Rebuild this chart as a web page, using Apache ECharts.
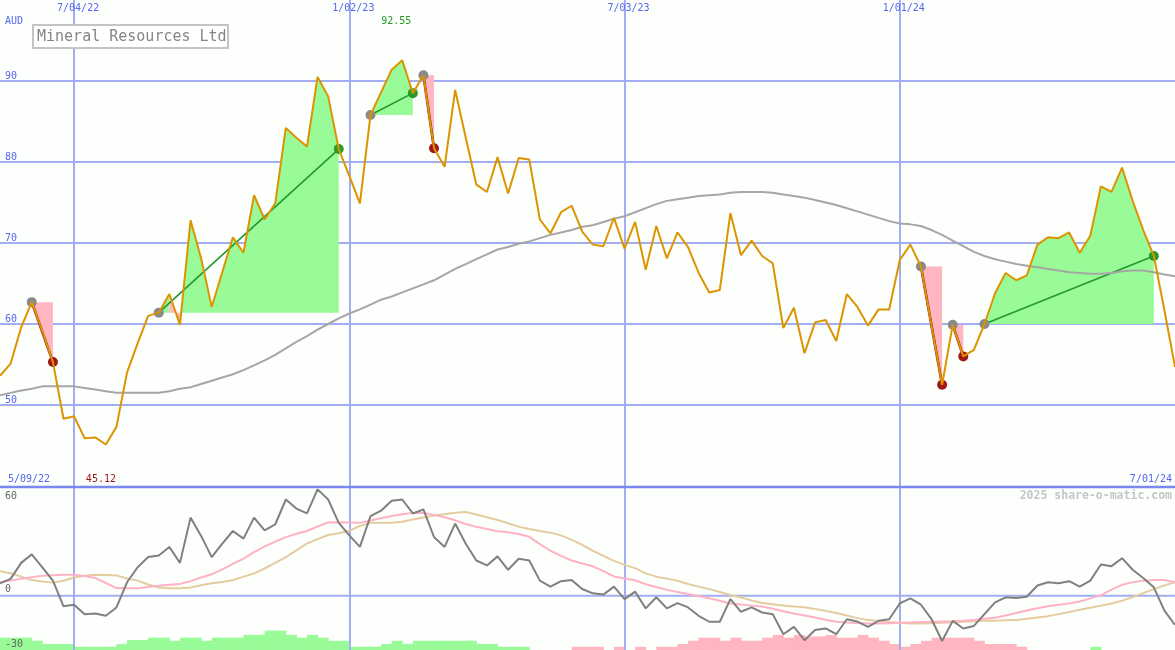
<!DOCTYPE html>
<html><head><meta charset="utf-8">
<script src="https://cdn.jsdelivr.net/npm/echarts@6/dist/echarts.min.js"></script>
<style>html,body{margin:0;padding:0;background:#fdfffd;}#c{width:1175px;height:650px;}</style>
</head><body><div id="c"></div>
<script>
// ---- data (weekly) ----
const price = [53.6,55.1,59.6,62.7,59.1,55.3,48.3,48.6,45.9,46.0,
 45.12,47.3,54.0,57.6,61.0,61.4,63.7,59.9,72.8,68.1,
 62.1,66.4,70.7,68.8,75.9,72.9,74.9,84.2,83.0,81.9,
 90.5,88.1,81.6,78.3,74.9,85.8,88.6,91.4,92.55,88.5,
 90.7,81.7,79.4,88.9,83.0,77.2,76.3,80.6,76.1,80.5,
 80.3,72.9,71.2,73.8,74.6,71.4,69.8,69.6,73.1,69.3,
 72.6,66.7,72.1,68.1,71.3,69.5,66.3,63.9,64.2,73.7,
 68.5,70.3,68.4,67.5,59.5,62.0,56.4,60.2,60.5,57.9,
 63.7,62.1,59.8,61.8,61.8,67.9,69.8,67.1,59.8,52.5,
 59.9,56.0,56.8,60.0,63.8,66.3,65.4,66.0,69.8,70.7,
 70.6,71.3,68.8,70.9,77.0,76.3,79.3,75.2,71.6,68.4,
 61.7,54.7];
const movingAvg = [51.2,51.5,51.8,52.0,52.3,52.3,52.3,52.3,52.1,51.9,
 51.7,51.5,51.5,51.5,51.5,51.5,51.7,52.0,52.2,52.6,
 53.0,53.4,53.8,54.3,54.9,55.5,56.2,57.0,57.8,58.5,
 59.3,60.0,60.7,61.3,61.8,62.4,63.0,63.4,63.9,64.4,
 64.9,65.4,66.1,66.8,67.4,68.0,68.6,69.2,69.5,69.9,
 70.2,70.6,71.0,71.3,71.6,72.0,72.2,72.6,73.0,73.3,
 73.8,74.3,74.8,75.2,75.4,75.6,75.8,75.9,76.0,76.2,
 76.3,76.3,76.3,76.2,76.0,75.8,75.6,75.3,75.0,74.7,
 74.3,73.9,73.5,73.1,72.7,72.4,72.3,72.1,71.6,71.0,
 70.3,69.6,68.9,68.4,68.0,67.7,67.4,67.2,67.0,66.8,
 66.6,66.4,66.3,66.2,66.2,66.3,66.5,66.6,66.6,66.4,
 66.1,65.9];
const osc = [6.8,9.3,18.1,22.8,15.6,8.3,-5.9,-5.0,-10.2,-9.8,
 -11.1,-6.5,7.4,15.7,21.3,22.2,26.9,18.1,43.1,33.0,
 21.3,28.7,35.7,31.5,43.1,36.1,39.3,53.1,48.1,45.4,
 58.7,53.1,40.2,33.3,26.9,43.9,46.9,52.4,53.1,45.4,
 47.6,32.4,26.9,39.8,28.7,19.4,16.7,21.7,14.3,20.4,
 19.4,8.3,5.0,8.0,8.7,3.7,1.3,0.6,5.0,-1.9,
 2.2,-7.0,-0.9,-7.0,-4.1,-6.5,-11.1,-14.4,-14.4,-1.9,
 -8.9,-6.5,-9.3,-10.2,-21.3,-17.2,-24.6,-19.0,-18.1,-21.3,
 -13.0,-14.3,-17.2,-13.9,-13.0,-4.3,-1.5,-5.0,-13.0,-25.0,
 -13.9,-18.1,-16.7,-10.2,-3.7,-0.9,-1.3,-0.6,5.6,7.4,
 6.9,8.0,5.0,8.3,17.2,16.3,20.7,14.3,9.8,4.6,
 -8.3,-16.1];
const oscFast = [7.4,8.3,9.3,10.2,11.0,11.3,11.5,11.5,10.8,9.8,
 7.0,4.2,4.1,4.1,4.8,5.5,6.0,6.5,8.0,10.0,
 11.8,14.5,17.5,20.5,24.0,27.2,29.8,32.3,34.2,35.7,
 38.2,40.4,40.6,40.4,40.2,41.5,42.7,44.0,45.0,45.6,
 45.7,44.6,43.3,41.6,39.6,38.0,36.8,35.6,35.0,34.0,
 32.5,28.5,24.8,22.0,19.4,17.8,16.2,13.5,10.6,9.5,
 8.5,6.3,4.8,3.2,2.0,0.9,-0.2,-1.4,-2.8,-4.3,
 -4.9,-5.5,-6.0,-7.2,-8.6,-9.9,-11.0,-12.1,-13.3,-14.4,
 -14.8,-15.1,-15.3,-15.4,-15.2,-15.0,-14.8,-14.6,-14.4,-14.2,
 -14.1,-13.9,-13.4,-12.8,-12.2,-11.0,-9.6,-8.2,-7.0,-5.8,
 -5.0,-4.3,-3.2,-1.5,0.2,3.3,6.0,7.4,8.3,8.6,
 8.6,7.4];
const oscSlow = [13.5,12.4,10.5,8.6,7.8,7.2,8.2,10.0,11.0,11.5,
 11.4,11.2,9.5,8.3,6.2,4.5,4.1,4.1,4.5,5.7,
 6.8,7.5,8.5,10.5,12.2,15.0,18.1,21.3,25.0,28.8,
 31.2,33.5,34.5,35.8,38.5,40.2,40.2,40.2,40.8,42.0,
 43.2,44.2,45.0,45.8,46.2,44.8,43.3,41.8,40.0,38.1,
 36.8,35.7,34.8,33.3,30.8,28.0,24.8,22.0,19.2,17.0,
 15.2,12.3,10.5,9.4,8.2,6.4,5.0,3.6,2.0,0.4,
 -1.0,-2.6,-4.1,-4.8,-5.4,-6.0,-6.4,-7.4,-8.4,-9.6,
 -11.0,-12.4,-13.5,-14.0,-14.6,-15.0,-15.3,-15.4,-15.2,-15.0,
 -14.7,-14.4,-14.1,-13.9,-13.8,-13.6,-13.5,-12.7,-12.0,-11.3,
 -10.2,-9.0,-7.8,-6.7,-5.5,-4.3,-2.8,-0.8,1.4,3.6,
 5.6,7.4];
const hist = [6.8,6.8,6.8,5.1,3.3,3.3,3.3,1.8,1.8,1.8,
 1.8,3.3,5.5,5.5,6.8,6.8,5.1,6.8,6.8,5.1,
 6.8,6.8,6.8,8.3,8.3,10.7,10.7,8.3,6.8,8.3,
 6.8,5.1,5.1,1.8,1.8,1.8,3.3,5.1,3.3,5.1,
 5.1,5.1,5.1,5.1,5.1,3.3,3.3,1.8,1.8,1.8,
 0,0,0,0,-1.8,-1.8,-1.8,0,-1.8,0,
 -1.8,0,-1.8,-1.8,-3.3,-5.1,-6.8,-6.8,-5.1,-6.8,
 -5.1,-5.1,-6.8,-8.3,-6.8,-8.3,-7.5,-7.5,-8.3,-6.8,
 -6.8,-8.3,-6.8,-5.1,-3.3,-1.8,-3.3,-5.1,-6.8,-6.8,
 -6.8,-6.8,-5.1,-3.3,-3.3,-3.3,-1.8,0,0,0,
 0,0,0,1.8,0,0,0,0,0,0,
 0,0];
const tradeEntries = [3,15,35,40,87,90,93];
const tradeExits   = [5,32,39,41,89,91,109];
const priceTickValues = [50,60,70,80,90];
const oscTickValues = [60,0,-30];
const dateTickLabels = ['7/04/22','1/02/23','7/03/23','1/01/24'];
const firstWeek = [2022,4,16];
const rangeStartLabel = '5/09/22', rangeEndLabel = '7/01/24';

// categories: weekly dates
const cats = price.map((_, i) => {
  const d = new Date(Date.UTC(firstWeek[0], firstWeek[1], firstWeek[2] + 7 * i));
  return (d.getUTCMonth() + 1) + '/' + String(d.getUTCDate()).padStart(2, '0') + '/' + String(d.getUTCFullYear()).slice(2);
});

const MONO = 'DejaVu Sans Mono';
const BLUE = '#5566ee';
const GRID = '#a3aef2';
const GREENF = '#98fb98', PINKF = '#ffb6c1';

// group trade segments into runs of same colour (above / below entry level)
const runs = [];
tradeEntries.forEach((e, t) => {
  const x = tradeExits[t], lvl = price[e];
  let cur = null;
  for (let k = e; k < x; k++) {
    const up = price[k + 1] >= lvl;
    if (!cur || cur.up !== up) { cur = {up, lvl, from: k, to: k + 1}; runs.push(cur); }
    else cur.to = k + 1;
  }
});
const tickFn = (i, v) => dateTickLabels.indexOf(v) >= 0;
const hLine = (yAxisIndex, vals, xAxisIndex, color, width) => ({
  type: 'custom', xAxisIndex, yAxisIndex, silent: true, clip: false,
  data: vals.map(v => [0, v]),
  renderItem: (params, api) => {
    const p = api.coord([0, vals[params.dataIndex]]);
    return {type: 'line', shape: {x1: params.coordSys.x, y1: p[1], x2: params.coordSys.x + params.coordSys.width, y2: p[1]},
      style: {stroke: color || GRID, lineWidth: width || 2}};
  }
});

const chart = echarts.init(document.getElementById('c'), null, {renderer: 'canvas'});
chart.setOption({
  backgroundColor: '#fdfffd',
  animation: false,
  grid: [
    {left: 0, right: 0, top: 0, height: 486},
    {left: 0, right: 0, top: 487, height: 163}
  ],
  xAxis: [
    {type: 'category', gridIndex: 0, data: cats, boundaryGap: false, position: 'top',
     axisLine: {show: false}, axisTick: {show: false},
     axisLabel: {inside: true, interval: tickFn, margin: 3, color: BLUE, fontSize: 10, fontFamily: MONO, padding: [0, 0, 0, 8]},
     splitLine: {show: true, interval: tickFn, lineStyle: {color: GRID, width: 2}}},
    {type: 'category', gridIndex: 1, data: cats, boundaryGap: false, position: 'top',
     axisLine: {show: false}, axisTick: {show: false},
     axisLabel: {show: false},
     splitLine: {show: true, interval: tickFn, lineStyle: {color: GRID, width: 2}}}
  ],
  yAxis: [
    {type: 'value', gridIndex: 0, min: 40, max: 100, interval: 10,
     axisLine: {show: false}, axisTick: {show: false},
     axisLabel: {inside: true, margin: 5, verticalAlign: 'bottom', color: BLUE, fontSize: 10, fontFamily: MONO,
       formatter: v => priceTickValues.indexOf(v) >= 0 ? String(v) : ''},
     splitLine: {show: false}},
    {type: 'value', gridIndex: 1, min: -30, max: 60, interval: 30, show: true,
     axisLine: {show: false}, axisTick: {show: false}, axisLabel: {show: false}, splitLine: {show: false}},
    {type: 'value', gridIndex: 1, min: 0, max: 90, show: false}
  ],
  series: [
    hLine(0, priceTickValues, 0),
    {type: 'custom', name: 'fills', xAxisIndex: 0, yAxisIndex: 0, silent: true,
     data: runs.map(r => [r.from, r.lvl]),
     renderItem: (params, api) => {
       const r = runs[params.dataIndex];
       const pts = [];
       for (let k = r.from; k <= r.to; k++) pts.push(api.coord([k, price[k]]));
       pts.push(api.coord([r.to, r.lvl]));
       pts.push(api.coord([r.from, r.lvl]));
       return {type: 'polygon', shape: {points: pts}, style: {fill: r.up ? GREENF : PINKF}};
     }},
    {type: 'line', name: 'ma', xAxisIndex: 0, yAxisIndex: 0, data: movingAvg, symbol: 'none', silent: true,
     lineStyle: {color: '#a6a6a6', width: 2}},
    {type: 'custom', name: 'connectors', xAxisIndex: 0, yAxisIndex: 0, silent: true,
     data: tradeEntries.map((e, t) => [e, price[e]]),
     renderItem: (params, api) => {
       const t = params.dataIndex, e = tradeEntries[t], x = tradeExits[t];
       const a = api.coord([e, price[e]]), b = api.coord([x, price[x]]);
       const win = price[x] > price[e];
       return {type: 'line', shape: {x1: a[0], y1: a[1], x2: b[0], y2: b[1]},
         style: {stroke: win ? '#22992a' : '#8e1616', lineWidth: win ? 1.6 : 2.6}};
     }},
    {type: 'line', name: 'price', xAxisIndex: 0, yAxisIndex: 0, data: price, symbol: 'none', silent: true,
     lineStyle: {color: '#dc9400', width: 2}},
    {type: 'scatter', name: 'entries', xAxisIndex: 0, yAxisIndex: 0, symbolSize: 10, silent: true,
     data: tradeEntries.map(k => [k, price[k]]), itemStyle: {color: '#8a8a8a', opacity: 1}},
    {type: 'scatter', name: 'exits', xAxisIndex: 0, yAxisIndex: 0, symbolSize: 10, silent: true,
     data: tradeExits.map((k, t) => ({value: [k, price[k]], itemStyle: {color: price[k] > price[tradeEntries[t]] ? '#2a9a2a' : '#a01818', opacity: 1}}))},
    {type: 'custom', name: 'hist', xAxisIndex: 1, yAxisIndex: 2, z: -1, silent: true,
     data: hist.map((v, k) => [k, Math.abs(v)]),
     renderItem: (params, api) => {
       const k = params.dataIndex, v = hist[k];
       if (!v) return null;
       const top = api.coord([k, Math.abs(v)]), bot = api.coord([k, 0]);
       const w = api.size([1, 0])[0];
       return {type: 'rect', shape: {x: top[0], y: top[1], width: w + 0.5, height: bot[1] - top[1]},
         style: {fill: v > 0 ? GREENF : PINKF}};
     }},
    hLine(1, [0], 1),
    hLine(1, [oscTickValues[0]], 1, '#7888ee', 2.5),
    {type: 'line', name: 'slow', xAxisIndex: 1, yAxisIndex: 1, data: oscSlow, symbol: 'none', silent: true,
     lineStyle: {color: '#e4cc9e', width: 2}},
    {type: 'line', name: 'fast', xAxisIndex: 1, yAxisIndex: 1, data: oscFast, symbol: 'none', silent: true,
     lineStyle: {color: '#ffb2c6', width: 2}},
    {type: 'line', name: 'osc', xAxisIndex: 1, yAxisIndex: 1, data: osc, symbol: 'none', silent: true,
     lineStyle: {color: '#808080', width: 2}}
  ]
});

// text overlays
const maxV = Math.max(...price), minV = Math.min(...price);
const maxK = price.indexOf(maxV), minK = price.indexOf(minV);
const px = k => chart.convertToPixel({xAxisIndex: 0}, k);
const pyO = v => chart.convertToPixel({yAxisIndex: 1}, v);
const txt = (text, x, y, fill, align, valign, font) => ({type: 'text', z: 100, silent: true,
  style: {text, x, y, fill, font: font || ('10px ' + MONO), textAlign: align, align, textVerticalAlign: valign, verticalAlign: valign}});
const els = [
  {type: 'rect', z: 99, silent: true, shape: {x: 33, y: 25, width: 195, height: 23}, style: {fill: '#ffffff', stroke: '#c4c4c4', lineWidth: 2}},
  txt('Mineral Resources Ltd', 37, 37, '#858585', 'left', 'middle', '15px ' + MONO),
  txt('AUD', 5, 21, BLUE, 'left', 'middle'),
  txt(maxV.toFixed(2), px(maxK) - 21, 21, '#1f9a1f', 'left', 'middle'),
  txt(minV.toFixed(2), px(minK) - 20, 479, '#a01515', 'left', 'middle'),
  txt(rangeStartLabel, 8, 479, BLUE, 'left', 'middle'),
  txt(rangeEndLabel, 1172, 479, BLUE, 'right', 'middle'),
  txt('2025 share-o-matic.com', 1172, 496, '#c6c6c6', 'right', 'middle', 'bold 11.5px ' + MONO)
];
oscTickValues.forEach((v, i) => {
  const y = pyO(v);
  if (i === 0) els.push(txt(String(v), 5, y + 4, '#666666', 'left', 'top'));
  else els.push(txt(String(v), 5, y - 1, '#666666', 'left', 'bottom'));
});
chart.setOption({graphic: {elements: els}});
</script>
</body></html>
